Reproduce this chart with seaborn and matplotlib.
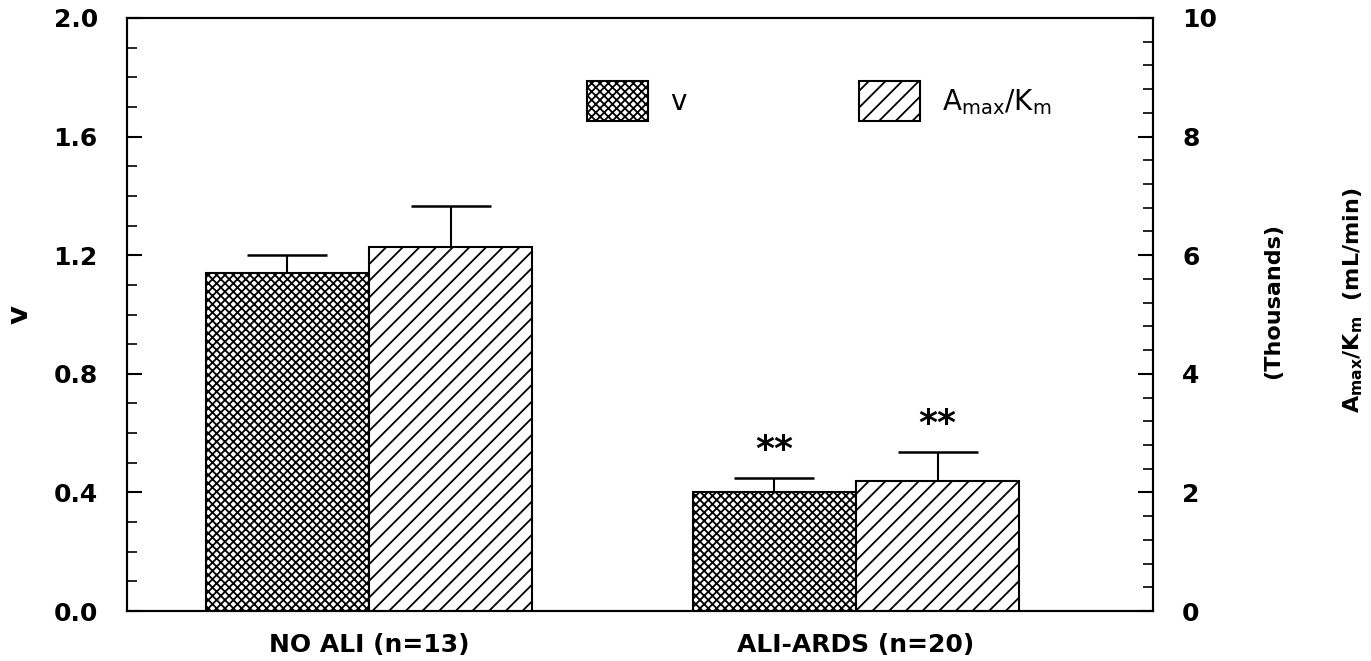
import matplotlib
matplotlib.use("Agg")
import matplotlib.pyplot as plt
from matplotlib.ticker import MultipleLocator, FormatStrFormatter
import seaborn as sns
import pandas as pd

# ---- data ----
groups = ["NO ALI (n=13)", "ALI-ARDS (n=20)"]
series = ["v", "A"]
v_mean = [1.14, 0.40]
v_sem = [0.06, 0.05]
a_mean = [6.13, 2.19]   # thousands, mL/min
a_sem = [0.70, 0.49]
significance = ["", "**"]
legend_labels = ["v", r"A$_{\rm max}$/K$_{\rm m}$"]

sns.set_theme(style="white")
plt.rcParams["font.family"] = ["DejaVu Sans"]
plt.rcParams["mathtext.fontset"] = "custom"
plt.rcParams["mathtext.rm"] = "DejaVu Sans"
plt.rcParams["mathtext.it"] = "DejaVu Sans"
plt.rcParams["mathtext.bf"] = "DejaVu Sans:bold"
plt.rcParams["hatch.linewidth"] = 1.3
plt.rcParams["hatch.color"] = "black"
for k in ["text.color", "axes.labelcolor", "xtick.color", "ytick.color", "axes.edgecolor"]:
    plt.rcParams[k] = "black"

fig = plt.figure(figsize=(13.71, 6.61), dpi=100)
ax = fig.add_axes([0.0926, 0.0756, 0.7484, 0.8972])
ax2 = ax.twinx()

df_v = pd.DataFrame({"group": groups, "series": "v", "value": v_mean})
df_a = pd.DataFrame({"group": groups, "series": "A", "value": a_mean})
pal = {"v": "white", "A": "white"}

sns.barplot(data=df_v, x="group", y="value", hue="series", hue_order=series,
            palette=pal, width=0.67, dodge=True, edgecolor="black",
            linewidth=1.5, errorbar=None, legend=False, ax=ax)
sns.barplot(data=df_a, x="group", y="value", hue="series", hue_order=series,
            palette=pal, width=0.67, dodge=True, edgecolor="black",
            linewidth=1.5, errorbar=None, legend=False, ax=ax2)

v_patches = sorted(ax.patches, key=lambda p: p.get_x())
a_patches = sorted(ax2.patches, key=lambda p: p.get_x())
for p in v_patches:
    p.set_hatch("xxxx")
for p in a_patches:
    p.set_hatch("//")

def add_err(axis, patches, means, sems):
    xs = [p.get_x() + p.get_width() / 2 for p in patches]
    eb = axis.errorbar(xs, means, yerr=[[0] * len(sems), sems], fmt="none",
                       ecolor="black", elinewidth=1.5, capsize=29, capthick=1.8)
    eb[1][0].set_visible(False)
    for x, m, s, sig in zip(xs, means, sems, significance):
        if sig:
            axis.annotate(sig, xy=(x, m + s), xytext=(0, 20), textcoords="offset points",
                          ha="center", va="center", fontsize=26, fontweight="bold")

add_err(ax, v_patches, v_mean, v_sem)
add_err(ax2, a_patches, a_mean, a_sem)

ax.set_xlim(-0.497, 1.610)
ax.set_ylim(0, 2.0)
ax2.set_ylim(0, 10)

ax.yaxis.set_major_locator(MultipleLocator(0.4))
ax.yaxis.set_minor_locator(MultipleLocator(0.1))
ax.yaxis.set_major_formatter(FormatStrFormatter("%.1f"))
ax2.yaxis.set_major_locator(MultipleLocator(2))
ax2.yaxis.set_minor_locator(MultipleLocator(0.4))
ax2.yaxis.set_major_formatter(FormatStrFormatter("%d"))

ax.tick_params(axis="y", which="major", direction="in", length=11, width=1.5,
               pad=21, labelsize=18, left=True, right=False)
ax.tick_params(axis="y", which="minor", direction="in", length=7, width=1.2,
               left=True, right=False)
ax2.tick_params(axis="y", which="major", direction="in", length=11, width=1.5,
                pad=21, labelsize=18, right=True, left=False)
ax2.tick_params(axis="y", which="minor", direction="in", length=7, width=1.2,
                right=True, left=False)
ax.tick_params(axis="x", length=0, pad=16, labelsize=18)

for lab in ax.get_xticklabels() + ax.get_yticklabels() + ax2.get_yticklabels():
    lab.set_fontweight("bold")

ax.set_xlabel("")
ax.set_ylabel("v", fontsize=21, fontweight="bold", labelpad=14)
ax2.set_ylabel("")

for a in (ax, ax2):
    for s in a.spines.values():
        s.set_linewidth(1.5)
        s.set_color("black")

fig.text(0.9285, 0.545, "(Thousands)", rotation=90, ha="center", va="center",
         fontsize=16, fontweight="bold")
fig.text(0.987, 0.545, r"A$_{\bf max}$/K$_{\bf m}$  (mL/min)", rotation=90,
         ha="center", va="center", fontsize=16, fontweight="bold")

handles = [v_patches[0], a_patches[0]]
ax2.legend(handles, legend_labels, loc="upper left",
           bbox_to_anchor=(587 / 1371, 1 - 81 / 661), bbox_transform=fig.transFigure,
           ncol=2, frameon=False, fontsize=20, handlelength=2.2, handleheight=1.85,
           handletextpad=0.8, columnspacing=6.2, borderpad=0, borderaxespad=0)

fig.savefig("out.png", dpi=100)
